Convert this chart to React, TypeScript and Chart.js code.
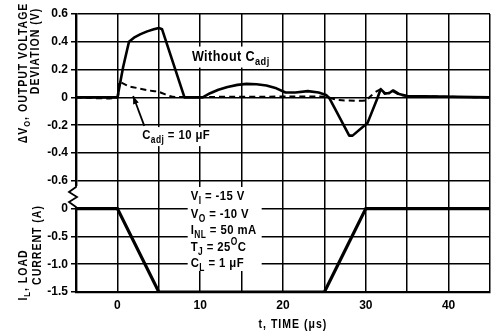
import React, { useEffect, useRef } from "react";
import { Chart, registerables } from "chart.js";

Chart.register(...registerables);

// ---- data (time in µs, voltage deviation in V, load current in A) ----
const timeSolid = [-5, 0, 0.7, 1.4, 2.0, 2.8, 3.6, 4.4, 5.0, 5.4, 8.1, 10.3, 11.2, 12.2, 13.3, 14.5, 15.6, 16.8, 18.0, 19.2, 20.3, 21.5, 23.0, 24.3, 25.2, 25.6, 28.0, 28.4, 30.2, 31.4, 31.8, 32.3, 32.8, 33.3, 34, 35, 45];
const voltSolid = [0, 0, 0.22, 0.4, 0.43, 0.455, 0.475, 0.49, 0.5, 0.49, 0.0, 0.0, 0.03, 0.055, 0.075, 0.09, 0.097, 0.095, 0.085, 0.065, 0.035, 0.035, 0.045, 0.035, 0.018, -0.006, -0.275, -0.275, -0.185, -0.006, 0.06, 0.03, 0.03, 0.05, 0.025, 0.01, 0.0];

const timeDashed = [-5, 0, 0.15, 1.4, 2.6, 3.8, 5, 6.3, 7, 25.2, 26.4, 27.4, 30.0, 30.6, 31.2, 31.8, 32.3, 33.2, 34, 35, 45];
const voltDashed = [0, 0, 0.11, 0.08, 0.065, 0.05, 0.04, 0.01, 0.003, 0.005, -0.016, -0.022, -0.022, 0.01, 0.04, 0.055, 0.025, 0.045, 0.02, 0.01, 0];

const timeCurrent = [-5, 0, 5, 25, 30, 45];
const ampCurrent = [0, 0, -1.5, -1.5, 0, 0];

const voltTickValues = [0.6, 0.4, 0.2, 0, -0.2, -0.4, -0.6];
const voltTickLabels = ["0.6", "0.4", "0.2", "0", "-0.2", "-0.4", "-0.6"];
const currentTickValues = [0, -0.5, -1.0, -1.5];
const currentTickLabels = ["0", "-0.5", "-1.0", "-1.5"];
const timeTickValues = [0, 10, 20, 30, 40];
const timeTickLabels = ["0", "10", "20", "30", "40"];

// current panel sits below the voltage panel on one shared grid
const CURRENT_OFFSET = -0.8;
const CURRENT_SCALE = 0.4;
const mapCurrent = (a: number) => CURRENT_OFFSET + a * CURRENT_SCALE;

const FONT = '"Liberation Sans", Arial, Helvetica, sans-serif';
const HS = 0.84; // horizontal squeeze to mimic condensed type

type Seg = { t: string; sub?: boolean; sup?: boolean };

function segFont(s: Seg, size: number) {
  return `bold ${s.sub || s.sup ? Math.round(size * 0.72) : size}px ${FONT}`;
}

function richWidth(ctx: CanvasRenderingContext2D, segs: Seg[], size: number) {
  let w = 0;
  for (const s of segs) {
    ctx.font = segFont(s, size);
    w += ctx.measureText(s.t).width;
  }
  return w * HS;
}

function drawRich(ctx: CanvasRenderingContext2D, segs: Seg[], x: number, y: number, size: number, center = false) {
  const w = richWidth(ctx, segs, size);
  ctx.save();
  ctx.translate(center ? x - w / 2 : x, y);
  ctx.scale(HS, 1);
  ctx.textAlign = "left";
  ctx.textBaseline = "alphabetic";
  ctx.fillStyle = "#000";
  let cx = 0;
  for (const s of segs) {
    ctx.font = segFont(s, size);
    const dy = s.sub ? size * 0.3 : s.sup ? -size * 0.4 : 0;
    ctx.fillText(s.t, cx, dy);
    cx += ctx.measureText(s.t).width;
  }
  ctx.restore();
  return w;
}

const annotations = {
  id: "annotations",
  beforeDatasetsDraw(chart: any) {
    const ctx: CanvasRenderingContext2D = chart.ctx;
    const xs = chart.scales.x;
    const ys = chart.scales.y;
    const ca = chart.chartArea;
    ctx.save();
    (ctx as any).letterSpacing = "0.5px";

    // "Without Cadj"
    const wSegs: Seg[] = [{ t: "Without C" }, { t: "adj", sub: true }];
    const wx = xs.getPixelForValue(9.0);
    const wy = ys.getPixelForValue(0.265);
    const ww = richWidth(ctx, wSegs, 15);
    ctx.fillStyle = "#fff";
    ctx.fillRect(wx - 3, wy - 14, ww + 6, 21);
    drawRich(ctx, wSegs, wx, wy, 15);

    // "Cadj = 10 µF" with arrow
    const cSegs: Seg[] = [{ t: "C" }, { t: "adj", sub: true }, { t: " = 10 \u03BCF" }];
    const cx = xs.getPixelForValue(3.0);
    const cy = ys.getPixelForValue(-0.3);
    const cw = richWidth(ctx, cSegs, 13.5);
    ctx.fillStyle = "#fff";
    ctx.fillRect(cx - 3, cy - 12, cw + 6, 19);
    drawRich(ctx, cSegs, cx, cy, 13.5);

    const ax0 = xs.getPixelForValue(3.25), ay0 = ys.getPixelForValue(-0.205);
    const ax1 = xs.getPixelForValue(1.9), ay1 = ys.getPixelForValue(0.01);
    ctx.strokeStyle = "#000";
    ctx.lineWidth = 1.8;
    ctx.beginPath();
    ctx.moveTo(ax0, ay0);
    ctx.lineTo(ax1, ay1);
    ctx.stroke();
    const ang = Math.atan2(ay1 - ay0, ax1 - ax0);
    ctx.beginPath();
    ctx.moveTo(ax1, ay1);
    ctx.lineTo(ax1 - 8 * Math.cos(ang) + 3 * Math.sin(ang), ay1 - 8 * Math.sin(ang) - 3 * Math.cos(ang));
    ctx.lineTo(ax1 - 8 * Math.cos(ang) - 3 * Math.sin(ang), ay1 - 8 * Math.sin(ang) + 3 * Math.cos(ang));
    ctx.closePath();
    ctx.fillStyle = "#000";
    ctx.fill();

    // conditions box
    const condLines: Seg[][] = [
      [{ t: "V" }, { t: "I", sub: true }, { t: " = -15 V" }],
      [{ t: "V" }, { t: "O", sub: true }, { t: " = -10 V" }],
      [{ t: "I" }, { t: "NL", sub: true }, { t: " = 50 mA" }],
      [{ t: "T" }, { t: "J", sub: true }, { t: " = 25" }, { t: "O", sup: true }, { t: "C" }],
      [{ t: "C" }, { t: "L", sub: true }, { t: " = 1 \u03BCF" }],
    ];
    const bx = xs.getPixelForValue(8.85);
    ctx.fillStyle = "#fff";
    ctx.fillRect(bx - 3, ca.top + 173, 74, 84);
    const baseOffsets = [186, 203.5, 219.5, 236.5, 252.5];
    condLines.forEach((segs, i) => drawRich(ctx, segs, bx, ca.top + baseOffsets[i], 13.5));

    // axis break zigzag
    const lx = ca.left;
    ctx.fillStyle = "#fff";
    ctx.fillRect(lx - 4, ca.top + 172, 8, 21);
    ctx.strokeStyle = "#000";
    ctx.lineWidth = 1.8;
    ctx.beginPath();
    ctx.moveTo(lx, ca.top + 171);
    ctx.lineTo(lx, ca.top + 173);
    ctx.lineTo(lx - 7, ca.top + 178);
    ctx.lineTo(lx + 1, ca.top + 183);
    ctx.lineTo(lx - 7, ca.top + 188);
    ctx.lineTo(lx, ca.top + 193);
    ctx.lineTo(lx, ca.top + 195);
    ctx.stroke();

    // axis titles
    const titleSize = 12.5;
    const drawV = (segs: Seg[], px: number, py: number) => {
      ctx.save();
      ctx.translate(px, py);
      ctx.rotate(-Math.PI / 2);
      drawRich(ctx, segs, 0, titleSize * 0.36, titleSize, true);
      ctx.restore();
    };
    (ctx as any).letterSpacing = "1.2px";
    drawV([{ t: "\u0394V" }, { t: "O", sub: true }, { t: ", OUTPUT VOLTAGE" }], 22, 73);
    drawV([{ t: "DEVIATION (V)" }], 34, 51);
    drawV([{ t: "I" }, { t: "L", sub: true }, { t: ", LOAD" }], 22, 275);
    drawV([{ t: "CURRENT (A)" }], 36, 245);
    drawRich(ctx, [{ t: "t, TIME (\u03BCs)" }], xs.getPixelForValue(21.2), 328, 12.5, true);
    ctx.restore();
  },
};

function labelFor(v: number, values: number[], labels: string[]) {
  const i = values.findIndex((u) => Math.abs(u - v) < 1e-6);
  return i >= 0 ? labels[i] : "";
}

export default function App() {
  const ref = useRef<HTMLCanvasElement | null>(null);
  useEffect(() => {
    if (!ref.current) return;
    const solid = timeSolid.map((t, i) => ({ x: t, y: voltSolid[i] }));
    const dashed = timeDashed.map((t, i) => ({ x: t, y: voltDashed[i] }));
    const current = timeCurrent.map((t, i) => ({ x: t, y: mapCurrent(ampCurrent[i]) }));
    const chart = new Chart(ref.current, {
      type: "line",
      data: {
        datasets: [
          { label: "Without Cadj", data: solid, borderColor: "#000", borderWidth: 2.6, pointRadius: 0, tension: 0, borderJoinStyle: "round" },
          { label: "Cadj = 10 µF", data: dashed, borderColor: "#000", borderWidth: 2, borderDash: [6, 4], pointRadius: 0, tension: 0.2 },
          { label: "IL", data: current, borderColor: "#000", borderWidth: 3.2, pointRadius: 0, tension: 0 },
        ],
      },
      options: {
        animation: false,
        responsive: true,
        maintainAspectRatio: false,
        layout: { padding: { left: 0, right: 2, top: 14, bottom: 0 } },
        plugins: { legend: { display: false }, tooltip: { enabled: false } },
        scales: {
          x: {
            type: "linear",
            min: -5,
            max: 45,
            ticks: {
              stepSize: 5,
              color: "#000",
              padding: 6,
              maxRotation: 0,
              font: { family: FONT, size: 12, weight: "bold" },
              callback: (v: any) => labelFor(Number(v), timeTickValues, timeTickLabels),
            },
            grid: { color: "#000", lineWidth: 1.5, drawTicks: false },
            border: { color: "#000", width: 2.2 },
            afterFit: (s: any) => { s.height = 41; },
          },
          y: {
            type: "linear",
            min: -1.4,
            max: 0.6,
            ticks: {
              stepSize: 0.2,
              color: "#000",
              padding: 3,
              font: { family: FONT, size: 12, weight: "bold" },
              callback: (v: any) => {
                const n = Number(v);
                if (n > -0.7) return labelFor(n, voltTickValues, voltTickLabels);
                return labelFor((n - CURRENT_OFFSET) / CURRENT_SCALE, currentTickValues, currentTickLabels);
              },
            },
            grid: { color: "#000", lineWidth: 1.5, tickLength: 5 },
            border: { color: "#000", width: 2.4 },
            afterFit: (s: any) => { s.width = 76; },
          },
        },
      },
      plugins: [annotations],
    });
    return () => chart.destroy();
  }, []);
  return (
    <div style={{ position: "fixed", left: 0, top: 0, width: 496, height: 333, background: "#fff" }}>
      <canvas ref={ref} />
    </div>
  );
}
